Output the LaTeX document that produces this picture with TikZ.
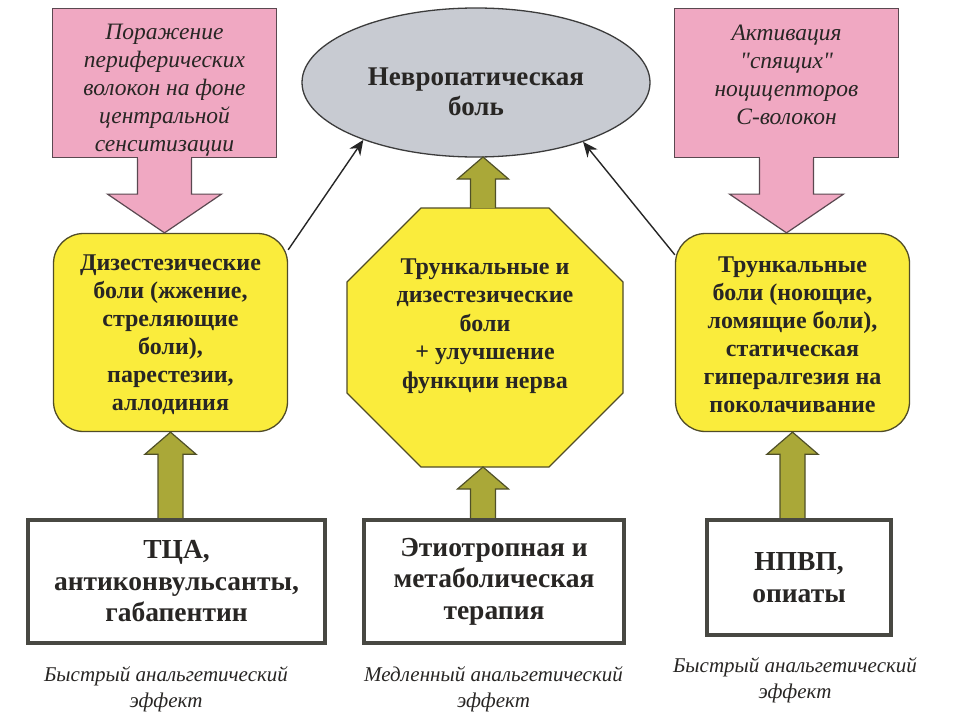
\documentclass[tikz,border=0pt]{standalone}
\usepackage{fontspec}
\setmainfont{Liberation Serif}[Ligatures=TeXOff]
\usetikzlibrary{arrows.meta,calc,shapes.geometric}
\definecolor{pinkf}{RGB}{240,168,194}
\definecolor{pinkd}{RGB}{90,72,80}
\definecolor{ellf}{RGB}{200,203,210}
\definecolor{elld}{RGB}{60,60,60}
\definecolor{yel}{RGB}{250,236,60}
\definecolor{yeld}{RGB}{80,76,40}
\definecolor{oliv}{RGB}{170,168,56}
\definecolor{olivd}{RGB}{80,80,40}
\definecolor{boxd}{RGB}{72,72,66}
\definecolor{txt}{RGB}{40,38,36}
\newcommand\olivearrow[2]{%
  \filldraw[olivst] ($(#2)+(-12.5,0)$) -- ($(#1)+(-12.5,22)$) -- ($(#1)+(-25.5,22)$) -- (#1)
    -- ($(#1)+(25.5,22)$) -- ($(#1)+(12.5,22)$) -- ($(#2)+(12.5,0)$);}
\newcommand\pinkarrow[2]{%
  \filldraw[pinkst] ($(#1)+(-27,0)$) -- ($(#1)+(-27,36)$) -- ($(#1)+(-57,36)$) -- (#2)
    -- ($(#1)+(57,36)$) -- ($(#1)+(27,36)$) -- ($(#1)+(27,0)$);
  \fill[pinkf] ($(#1)+(-26.3,-1.2)$) rectangle ($(#1)+(26.3,1.2)$);}
\begin{document}
\begin{tikzpicture}[x=1pt,y=-1pt,
  pinkbox/.style={draw=pinkd,fill=pinkf,line width=1.2pt,minimum width=224pt,minimum height=149pt,inner sep=0pt},
  pinkst/.style={draw=pinkd,fill=pinkf,line width=1.2pt,line join=miter},
  pinktext/.style={anchor=north,align=center,font=\fontsize{23.5}{28}\selectfont\itshape,text=txt},
  yelbox/.style={draw=yeld,fill=yel,line width=1.3pt,rounded corners=30pt,minimum width=234pt,minimum height=198pt,inner sep=0pt},
  yelst/.style={draw=yeld,fill=yel,line width=1.3pt},
  yeltext/.style={align=center,font=\fontsize{24}{28}\selectfont\bfseries,text=txt},
  olivst/.style={draw=olivd,fill=oliv,line width=1.2pt,line join=miter},
  botbox/.style={draw=boxd,fill=white,line width=4.5pt,inner sep=0pt,align=center,font=\fontsize{27.5}{31.5}\selectfont\bfseries,text=txt},
  foot/.style={align=center,font=\fontsize{21}{26}\selectfont\itshape,text=txt},
  thinarr/.style={draw=black!85,line width=1.4pt,-{Stealth[length=15pt,width=13pt]}}]
\useasboundingbox (0,0) rectangle (960,720);
\fill[white] (0,0) rectangle (960,720);
% top
\node[ellipse,draw=elld,fill=ellf,line width=1.3pt,minimum width=348pt,minimum height=149pt,inner sep=0pt] (ell) at (476,82.5) {};
\node[align=center,font=\fontsize{27}{30}\selectfont\bfseries,text=txt] (elltxt) at (476,92) {Невропатическая\\боль};
\node[pinkbox] (pl) at (164.5,83) {};
\node[pinktext] (plt) at (164.5,21) {Поражение\\периферических\\волокон на фоне\\центральной\\сенситизации};
\node[pinkbox] (pr) at (786.5,83) {};
\node[pinktext] (prt) at (786.5,21) {Активация\\"спящих"\\ноцицепторов\\С-волокон};
% middle
\node[yelbox] (yl) at (170.5,332.5) {};
\node[yeltext] (ylt) at (170.5,335) {Дизестезические\\боли (жжение,\\стреляющие\\боли),\\парестезии,\\аллодиния};
\node[yelbox] (yr) at (792.5,332.5) {};
\node[yeltext] (yrt) at (792.5,335) {Трункальные\\боли (ноющие,\\ломящие боли),\\статическая\\гипералгезия на\\поколачивание};
\filldraw[yelst] (421,208) -- (549,208) -- (623,282) -- (623,393) -- (549,467) -- (421,467) -- (347,393) -- (347,282) -- cycle;
\node[yeltext,font=\fontsize{24}{28.5}\selectfont\bfseries] (oct) at (485,326) {Трункальные и\\дизестезические\\боли\\+ улучшение\\функции нерва};
\coordinate (octt) at (483,208);
\coordinate (octb) at (483,467);
\coordinate (ellb) at (483,157);
% bottom
\node[botbox,minimum width=297pt,minimum height=123pt] (bl) at (176.5,581.5) {ТЦА,\\антиконвульсанты,\\габапентин};
\node[botbox,minimum width=260pt,minimum height=123pt] (bm) at (494,581.5) {Этиотропная и\\метаболическая\\терапия};
\node[botbox,minimum width=184pt,minimum height=115pt] (br) at (799,577.5) {НПВП,\\опиаты};
\node[foot] (fl) at (166,689) {Быстрый анальгетический\\эффект};
\node[foot] (fm) at (493.5,689) {Медленный анальгетический\\эффект};
\node[foot] (fr) at (795,680) {Быстрый анальгетический\\эффект};
% connectors
\pinkarrow{pl.south}{pl.south|-yl.north}
\pinkarrow{pr.south}{pr.south|-yr.north}
\coordinate (bl0) at (yl.south|-bl.north);
\coordinate (bm0) at (octb|-bm.north);
\coordinate (br0) at (yr.south|-br.north);
\olivearrow{yl.south}{bl0}
\olivearrow{octb}{bm0}
\olivearrow{yr.south}{br0}
\olivearrow{ellb}{octt}
\draw[thinarr] ($(yl.north east)+(0,17)$) -- (ell.207);
\draw[thinarr] ($(yr.north west)+(0,22)$) -- (ell.331);
\end{tikzpicture}
\end{document}
